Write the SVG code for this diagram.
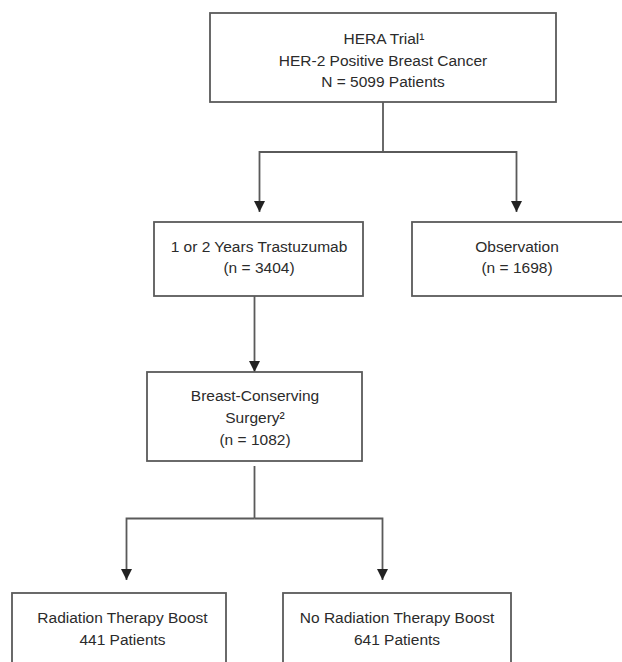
<svg xmlns="http://www.w3.org/2000/svg" width="622" height="662" viewBox="0 0 622 662">
<style>
.box{fill:#fff;stroke:#5a5a5a;stroke-width:1.8}
.t{font-family:"Liberation Sans",Arial,sans-serif;font-size:15.5px;fill:#2b2b2b;text-anchor:middle}
.ln{fill:none;stroke:#5a5a5a;stroke-width:1.8}
</style>
<defs>
<marker id="ah" viewBox="0 0 10 10" refX="10" refY="5" markerWidth="11" markerHeight="11" markerUnits="userSpaceOnUse" orient="auto">
<path d="M0,0 L10,5 L0,10 z" fill="#222"/>
</marker>
</defs>
<rect width="622" height="662" fill="#fff"/>
<g id="connectors">
<polyline class="ln" points="383,102 383,152"/>
<polyline class="ln" points="383,152 259.5,152 259.5,212" marker-end="url(#ah)"/>
<polyline class="ln" points="383,152 516.5,152 516.5,212" marker-end="url(#ah)"/>
<polyline class="ln" points="254.5,296 254.5,372" marker-end="url(#ah)"/>
<polyline class="ln" points="254.5,466 254.5,518.5"/>
<polyline class="ln" points="254.5,518.5 126.5,518.5 126.5,580" marker-end="url(#ah)"/>
<polyline class="ln" points="254.5,518.5 382.5,518.5 382.5,580" marker-end="url(#ah)"/>
</g>
<g id="hera">
<rect class="box" x="210" y="13" width="346" height="89"/>
<text class="t" x="384" y="44">HERA Trial¹</text>
<text class="t" x="383" y="66">HER-2 Positive Breast Cancer</text>
<text class="t" x="383" y="87">N = 5099 Patients</text>
</g>
<g id="trastuzumab">
<rect class="box" x="154" y="222" width="209" height="74"/>
<text class="t" x="259" y="252">1 or 2 Years Trastuzumab</text>
<text class="t" x="259" y="273">(n = 3404)</text>
</g>
<g id="observation">
<rect class="box" x="412" y="222" width="212" height="74"/>
<text class="t" x="517" y="252">Observation</text>
<text class="t" x="517" y="273">(n = 1698)</text>
</g>
<g id="bcs">
<rect class="box" x="147" y="372" width="215" height="89"/>
<text class="t" x="255" y="401">Breast-Conserving</text>
<text class="t" x="255" y="423">Surgery²</text>
<text class="t" x="255" y="445">(n = 1082)</text>
</g>
<g id="boost">
<rect class="box" x="12" y="593" width="214" height="80"/>
<text class="t" x="122.5" y="623">Radiation Therapy Boost</text>
<text class="t" x="122.5" y="645">441 Patients</text>
</g>
<g id="noboost">
<rect class="box" x="283" y="593" width="228" height="80"/>
<text class="t" x="397" y="623">No Radiation Therapy Boost</text>
<text class="t" x="397" y="645">641 Patients</text>
</g>
</svg>
